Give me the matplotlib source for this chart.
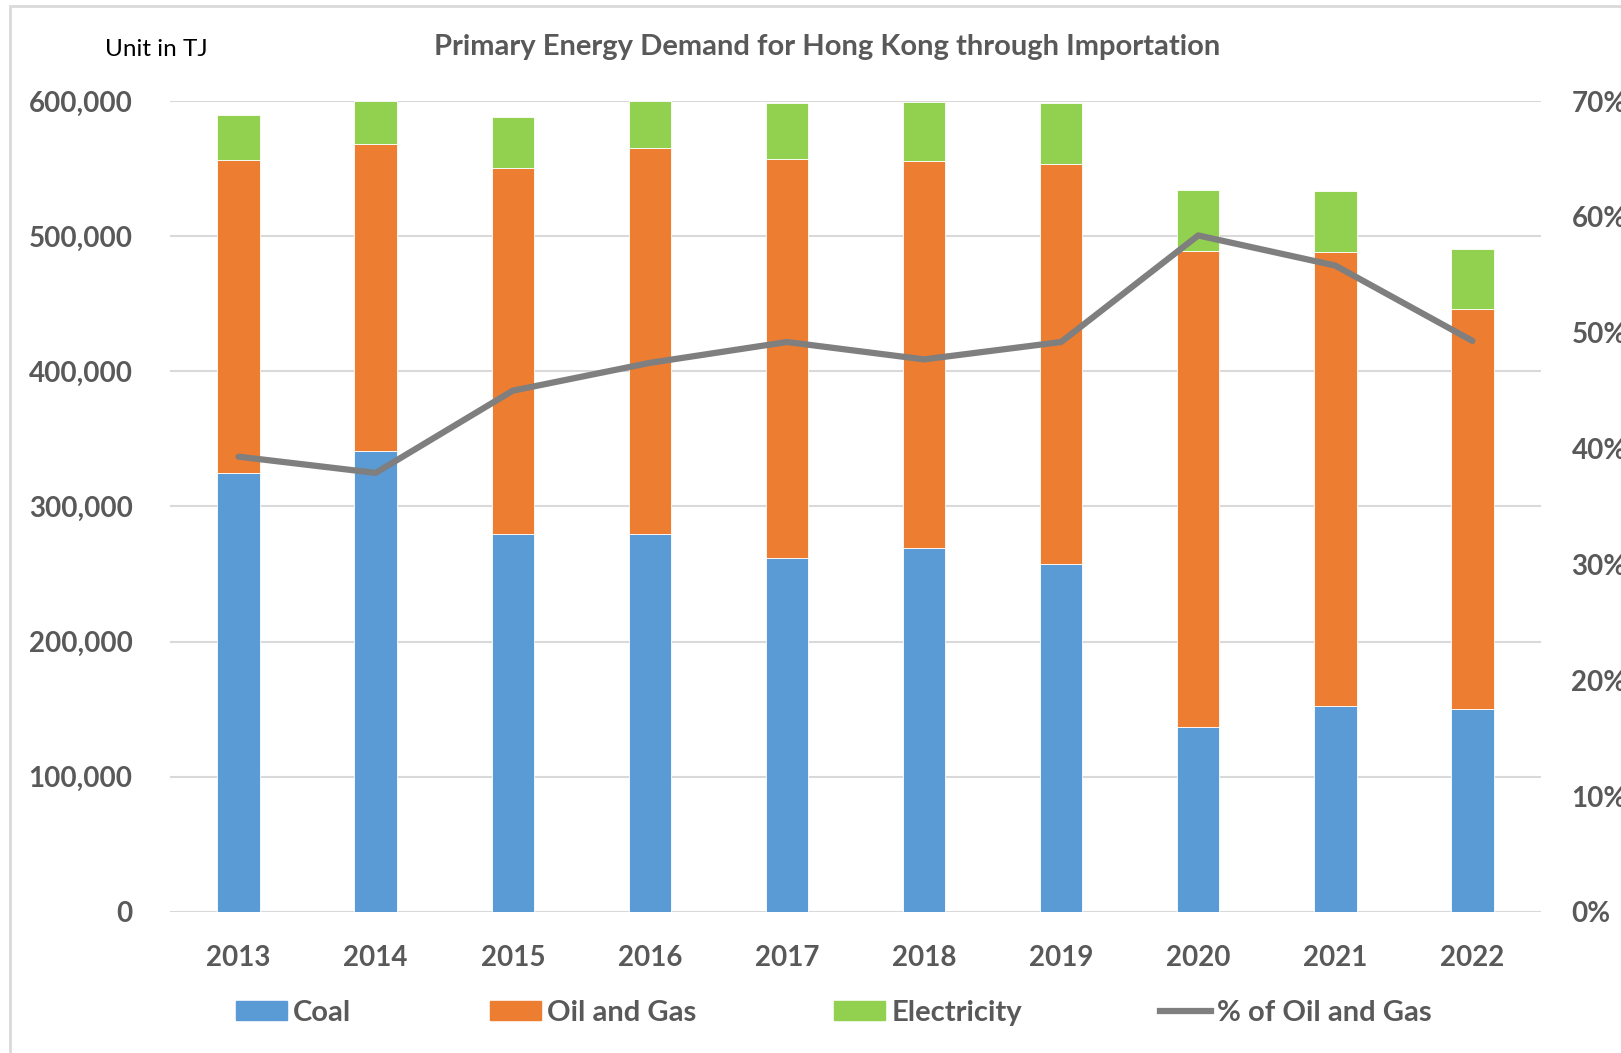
import matplotlib
matplotlib.use("Agg")
import matplotlib.pyplot as plt
from matplotlib.patches import Patch, Rectangle
from matplotlib.lines import Line2D
from matplotlib.ticker import FuncFormatter, MultipleLocator
import numpy as np

# data (TJ)
years = ['2013', '2014', '2015', '2016', '2017', '2018', '2019', '2020', '2021', '2022']
coal = [325000, 341000, 280000, 280000, 262000, 269000, 257600, 137000, 152000, 150000]
oil_gas = [231600, 227000, 270500, 285000, 295000, 287000, 296000, 352300, 336500, 296500]
electricity = [32800, 32000, 37500, 35000, 41600, 43400, 45100, 45100, 45100, 44300]
pct_oil_gas = [0.393, 0.379, 0.450, 0.474, 0.492, 0.477, 0.492, 0.584, 0.558, 0.493]

c_coal = '#5b9bd5'
c_oil = '#ed7d31'
c_elec = '#92d050'
c_line = '#7f7f7f'
c_text = '#595959'
c_grid = '#d9d9d9'

plt.rcParams['font.family'] = ['Lato', 'DejaVu Sans']

fig = plt.figure(figsize=(16.21, 10.53), dpi=100)
ax = fig.add_axes([0.1049, 0.134, 0.8457, 0.770])
ax2 = ax.twinx()

x = np.arange(len(years))
w = 0.31
bottom2 = np.array(coal) + np.array(oil_gas)
ax.bar(x, coal, w, color=c_coal, edgecolor='white', linewidth=0.6, zorder=2)
ax.bar(x, oil_gas, w, bottom=coal, color=c_oil, edgecolor='white', linewidth=0.6, zorder=2)
ax.bar(x, electricity, w, bottom=bottom2, color=c_elec, edgecolor='white', linewidth=0.6, zorder=2)

ax2.plot(x, pct_oil_gas, color=c_line, linewidth=4.5, solid_capstyle='round',
         solid_joinstyle='round', zorder=3)

ax.set_xlim(-0.5, len(years) - 0.5)
ax.set_ylim(0, 600000)
ax.yaxis.set_major_locator(MultipleLocator(100000))
ax.yaxis.set_major_formatter(FuncFormatter(lambda v, p: f'{v:,.0f}'))
ax.grid(axis='y', color=c_grid, linewidth=1.5, zorder=0)
ax.set_axisbelow(True)
ax.set_xticks(x)
ax.set_xticklabels(years)

ax2.set_ylim(0, 0.7)
ax2.yaxis.set_major_locator(MultipleLocator(0.1))
ax2.yaxis.set_major_formatter(FuncFormatter(lambda v, p: f'{v * 100:.0f}%'))

for a in (ax, ax2):
    for s in a.spines.values():
        s.set_visible(False)
ax.tick_params(axis='both', length=0, labelsize=20, labelcolor=c_text)
ax.tick_params(axis='y', pad=27)
ax.tick_params(axis='x', pad=24)
ax2.tick_params(axis='y', length=0, labelsize=20, labelcolor=c_text, pad=22)
for lab in ax.get_xticklabels() + ax.get_yticklabels() + ax2.get_yticklabels():
    lab.set_fontweight('bold')

fig.text(0.51, 0.955, 'Primary Energy Demand for Hong Kong through Importation',
         ha='center', va='center', fontsize=21, fontweight='bold', color=c_text)
fig.text(0.065, 0.953, 'Unit in TJ', ha='left', va='center', fontsize=17.5, color='black')

handles = [Patch(color=c_coal), Patch(color=c_oil), Patch(color=c_elec),
           Line2D([], [], color=c_line, linewidth=4.5)]
labels = ['Coal', 'Oil and Gas', 'Electricity', '% of Oil and Gas']
leg = fig.legend(handles, labels, loc='center', bbox_to_anchor=(0.5145, 0.038), ncol=4,
                 frameon=False, fontsize=21, handlelength=1.75, handleheight=0.65,
                 handletextpad=0.2, columnspacing=4.75)
for t in leg.get_texts():
    t.set_color(c_text)
    t.set_fontweight('bold')

# light frame around the chart area
fig.patches.append(Rectangle((10 / 1621, -0.05), 1.2, 1 - 6 / 1053 + 0.05,
                             transform=fig.transFigure, fill=False,
                             edgecolor=c_grid, linewidth=2))

fig.savefig('out.png', dpi=100)
